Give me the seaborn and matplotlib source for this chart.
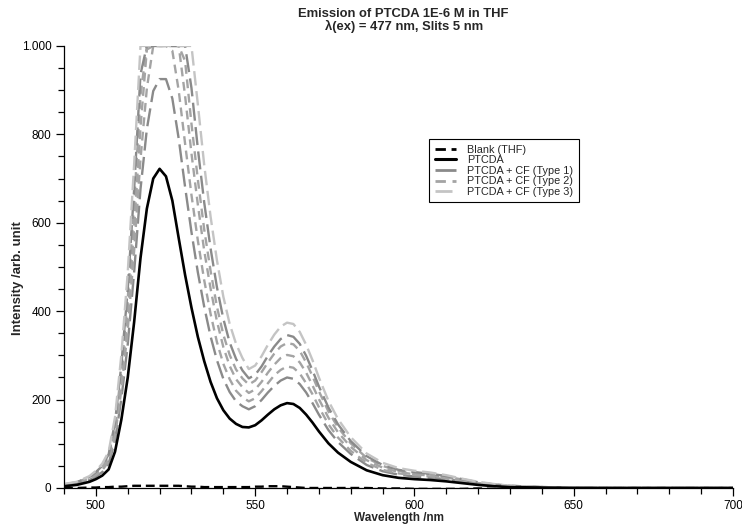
import numpy as np
import pandas as pd
import matplotlib
matplotlib.use("Agg")
import matplotlib.pyplot as plt
from matplotlib import font_manager
from matplotlib.ticker import MultipleLocator, FuncFormatter
from matplotlib.lines import Line2D
import seaborn as sns

# Wavelength grid (nm)
wavelength = [490, 494, 498, 500, 502, 504, 506, 508, 510, 512, 514, 516, 518, 520,
              522, 524, 526, 528, 530, 532, 534, 536, 538, 540, 542, 544, 546, 548,
              550, 552, 554, 556, 558, 560, 562, 564, 566, 568, 570, 573, 576, 580,
              585, 590, 595, 600, 605, 610, 615, 620, 625, 630, 640, 650, 660, 680, 700]

blank_thf = [0, 0, 1, 1, 2, 2, 3, 3, 4, 5, 5, 5, 5, 5,
             5, 5, 5, 4, 3, 3, 2, 2, 2, 2, 2, 2, 2, 2,
             3, 3, 4, 4, 4, 3, 2, 1, 0, 0, 0, 0, 0, 0,
             0, -1, -1, -2, -2, -2, -2, -1, -2, -2, -2, -2, -2, -2, -2]

ptcda = [4, 7, 14, 20, 28, 42, 82, 155, 250, 375, 520, 632, 700, 722,
         705, 650, 565, 482, 408, 342, 287, 240, 203, 176, 157, 145, 138, 137,
         142, 153, 166, 178, 187, 192, 190, 181, 166, 148, 128, 101, 80, 59,
         40, 29, 23, 20, 18, 15, 11, 7, 4, 2, 1, 0, 0, 0, 0]

cf_type1_a = [6, 10, 18, 26, 36, 55, 107, 202, 325, 488, 676, 812, 898, 925,
              925, 881, 790, 681, 579, 488, 410, 343, 289, 247, 217, 196, 185, 178,
              185, 199, 216, 231, 243, 250, 247, 235, 216, 192, 166, 131, 104, 77,
              52, 38, 30, 26, 23, 20, 15, 10, 6, 4, 2, 1, 0, 0, 0]

cf_type1_b = [8, 13, 25, 36, 50, 76, 148, 279, 450, 675, 936, 1000, 1000, 1000,
              1000, 1000, 1000, 1000, 905, 768, 646, 542, 454, 383, 329, 292, 266, 248,
              256, 275, 299, 320, 337, 346, 342, 326, 299, 266, 230, 182, 144, 106,
              72, 52, 41, 36, 32, 27, 20, 13, 8, 5, 2, 1, 0, 0, 0]

cf_type2_a = [8, 13, 24, 34, 48, 72, 140, 265, 428, 641, 889, 1000, 1000, 1000,
              1000, 1000, 1000, 966, 824, 698, 585, 491, 410, 347, 301, 268, 248, 234,
              243, 262, 284, 304, 320, 328, 325, 310, 284, 253, 219, 173, 137, 101,
              68, 50, 39, 34, 31, 26, 19, 12, 8, 5, 2, 1, 0, 0, 0]

cf_type2_b = [7, 12, 22, 31, 44, 66, 129, 243, 393, 589, 816, 992, 1000, 1000,
              1000, 1000, 1000, 887, 757, 641, 537, 451, 377, 319, 276, 246, 228, 215,
              223, 240, 261, 279, 294, 301, 298, 284, 261, 232, 201, 159, 126, 93,
              63, 46, 36, 31, 28, 24, 17, 11, 7, 4, 2, 1, 0, 0, 0]

cf_type2_c = [7, 11, 20, 29, 40, 60, 117, 222, 358, 536, 744, 904, 1000, 1000,
              1000, 989, 899, 779, 663, 560, 470, 394, 330, 281, 246, 220, 205, 196,
              203, 219, 237, 255, 267, 275, 272, 259, 237, 212, 183, 144, 114, 84,
              57, 41, 33, 29, 26, 21, 16, 11, 7, 4, 2, 1, 0, 0, 0]

cf_type3 = [9, 14, 27, 39, 55, 82, 160, 302, 488, 731, 1000, 1000, 1000, 1000,
            1000, 1000, 1000, 1000, 1000, 868, 731, 614, 515, 433, 371, 326, 294, 269,
            277, 298, 324, 347, 365, 374, 371, 353, 324, 289, 250, 197, 156, 115,
            78, 57, 45, 39, 35, 29, 21, 14, 9, 5, 2, 1, 0, 0, 0]

legend_labels = ["Blank (THF)", "PTCDA", "PTCDA + CF (Type 1)",
                 "PTCDA + CF (Type 2)", "PTCDA + CF (Type 3)"]

# (label, values) for every measured trace; replicates share a label
traces = [
    ("PTCDA + CF (Type 1)", cf_type1_a),
    ("PTCDA + CF (Type 2)", cf_type2_c),
    ("PTCDA + CF (Type 2)", cf_type2_b),
    ("PTCDA + CF (Type 2)", cf_type2_a),
    ("PTCDA + CF (Type 1)", cf_type1_b),
    ("PTCDA + CF (Type 3)", cf_type3),
    ("PTCDA", ptcda),
    ("Blank (THF)", blank_thf),
]

styles = {
    "Blank (THF)":         dict(color="#000000", lw=1.7, dashes=(2.2, 1.2)),
    "PTCDA":               dict(color="#000000", lw=1.9, dashes=None),
    "PTCDA + CF (Type 1)": dict(color="#8a8a8a", lw=1.7, dashes=(4.5, 1.6)),
    "PTCDA + CF (Type 2)": dict(color="#a4a4a4", lw=1.7, dashes=(2.2, 1.4)),
    "PTCDA + CF (Type 3)": dict(color="#c4c4c4", lw=1.7, dashes=(3.6, 1.4)),
}


def font_file(name):
    for path in font_manager.findSystemFonts():
        if path.endswith(name):
            return path
    return None


regular_path = font_file("LiberationSans-Regular.ttf")
bold_path = font_file("LiberationSans-Bold.ttf")


def fp(size, bold=False):
    path = bold_path if bold else regular_path
    if path:
        return font_manager.FontProperties(fname=path, size=size)
    return font_manager.FontProperties(family="DejaVu Sans", size=size,
                                       weight="bold" if bold else "normal")


sns.set_style("ticks")
plt.rcParams["font.family"] = ["Liberation Sans", "DejaVu Sans"]

fig = plt.figure(figsize=(7.42, 5.25), dpi=100)
ax = fig.add_axes([0.0863, 0.0705, 0.9016, 0.842])

for label, values in traces:
    st = styles[label]
    sns.lineplot(x=wavelength, y=values, ax=ax, color=st["color"],
                 linewidth=st["lw"], legend=False)
    line = ax.lines[-1]
    if st["dashes"] is not None:
        line.set_dashes([d * st["lw"] for d in st["dashes"]])

handles = []
for label in legend_labels:
    st = styles[label]
    h = Line2D([], [], color=st["color"], linewidth=st["lw"] + 0.3)
    if st["dashes"] is not None:
        h.set_dashes([d * st["lw"] for d in st["dashes"]])
    handles.append(h)

leg = ax.legend(handles, legend_labels, loc="upper left",
                bbox_to_anchor=(0.538, 0.801), prop=fp(7.8), frameon=True,
                fancybox=False, edgecolor="black", framealpha=1,
                handlelength=2.0, handletextpad=1.0, labelspacing=0.05,
                borderpad=0.5)
leg.get_frame().set_linewidth(0.8)

ax.set_xlim(490, 700)
ax.set_ylim(0, 1000)
ax.xaxis.set_major_locator(MultipleLocator(50))
ax.xaxis.set_minor_locator(MultipleLocator(10))
ax.yaxis.set_major_locator(MultipleLocator(200))
ax.yaxis.set_minor_locator(MultipleLocator(50))
ax.yaxis.set_major_formatter(FuncFormatter(lambda v, p: f"{int(v):,}".replace(",", ".")))
ax.tick_params(axis="both", which="major", length=6, width=0.9,
               colors="black", pad=3)
ax.tick_params(axis="both", which="minor", length=4, width=0.9, colors="black")
for lab in ax.get_xticklabels() + ax.get_yticklabels():
    lab.set_fontproperties(fp(8.5))

sns.despine(ax=ax)
for side in ("left", "bottom"):
    ax.spines[side].set_linewidth(0.9)
    ax.spines[side].set_color("black")

ax.set_xlabel("Wavelength /nm", fontproperties=fp(8.5, bold=True), labelpad=0)
ax.set_ylabel("Intensity /arb. unit", fontproperties=fp(9.5, bold=True))
ax.yaxis.set_label_coords(-0.06, 0.475)

fig.text(0.544, 0.985, "Emission of PTCDA 1E-6 M in THF\n\u03bb(ex) = 477 nm, Slits 5 nm",
         ha="center", va="top", fontproperties=fp(9.4, bold=True), linespacing=1.05)

fig.savefig("out.png", dpi=100, facecolor="white")
